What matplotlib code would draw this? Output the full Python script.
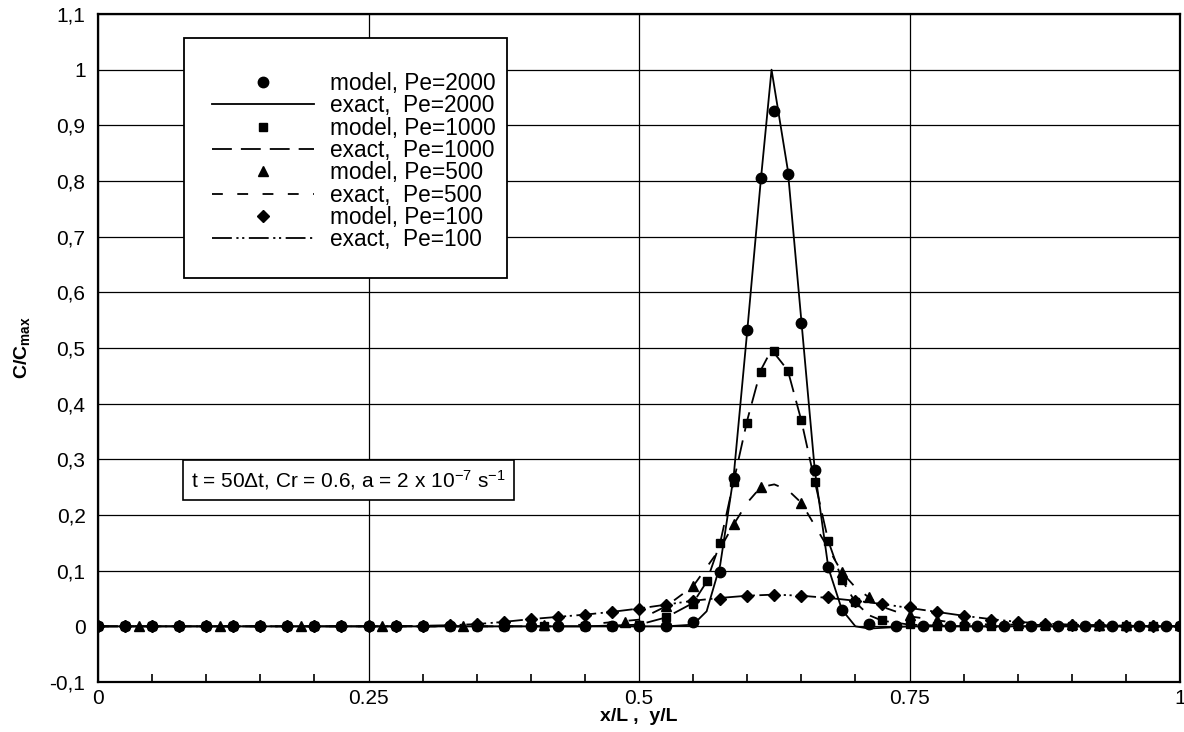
import numpy as np
import matplotlib
matplotlib.use("Agg")
import matplotlib.pyplot as plt
from matplotlib.patches import Rectangle
from matplotlib.ticker import FuncFormatter, MultipleLocator

plt.rcParams['font.family'] = ['Liberation Sans', 'DejaVu Sans']
plt.rcParams['mathtext.default'] = 'regular'

# ---- data ----
# model Pe=2000 (circles)
x_m2000 = [0, 0.025, 0.05, 0.075, 0.1, 0.125, 0.15, 0.175, 0.2, 0.225, 0.25,
           0.275, 0.3, 0.325, 0.35, 0.375, 0.4, 0.425, 0.45, 0.475, 0.5, 0.525,
           0.55, 0.575, 0.5875, 0.6, 0.6125, 0.625, 0.6375, 0.65, 0.6625, 0.675,
           0.6875, 0.7125, 0.7375, 0.7625, 0.7875, 0.8125, 0.8375, 0.8625,
           0.8875, 0.9125, 0.9375, 0.9625, 0.9875, 1.0]
y_m2000 = [0] * 22 + [0.007, 0.097, 0.266, 0.533, 0.805, 0.925, 0.812, 0.545,
                      0.28, 0.107, 0.03, 0.004] + [0] * 12

# exact Pe=2000 (solid)
x_e2000 = [0, 0.5, 0.525, 0.55, 0.5625, 0.575, 0.5875, 0.6, 0.6125, 0.6225,
           0.6375, 0.65, 0.6625, 0.675, 0.6875, 0.7, 0.7125, 0.75, 1.0]
y_e2000 = [0, 0, 0, 0.003, 0.027, 0.11, 0.27, 0.53, 0.80, 1.0,
           0.82, 0.55, 0.28, 0.105, 0.03, 0.0, -0.004, 0, 0]

# model Pe=1000 (squares)
x_m1000 = [0, 0.025, 0.05, 0.075, 0.1, 0.125, 0.15, 0.175, 0.2, 0.225, 0.25,
           0.275, 0.3, 0.325, 0.35, 0.375, 0.4125, 0.45, 0.475, 0.5, 0.525,
           0.55, 0.5625, 0.575, 0.5875, 0.6, 0.6125, 0.625, 0.6375, 0.65,
           0.6625, 0.675, 0.6875, 0.7, 0.725, 0.75, 0.775, 0.8, 0.825, 0.85,
           0.875, 0.9, 0.925, 0.95, 0.975, 1.0]
y_m1000 = [0] * 19 + [0.003, 0.016, 0.04, 0.081, 0.15, 0.26, 0.366, 0.456,
                      0.494, 0.458, 0.37, 0.26, 0.153, 0.084, 0.043, 0.012,
                      0.004] + [0] * 10

# exact Pe=1000 (long dash)
x_e1000 = [0, 0.45, 0.5, 0.525, 0.55, 0.5625, 0.575, 0.5875, 0.6, 0.6125,
           0.6225, 0.6375, 0.65, 0.6625, 0.675, 0.6875, 0.7, 0.7125, 0.725,
           0.75, 0.8, 1.0]
y_e1000 = [0, 0, 0.003, 0.016, 0.042, 0.08, 0.15, 0.26, 0.37, 0.46,
           0.497, 0.46, 0.37, 0.26, 0.153, 0.084, 0.043, 0.02, 0.01,
           0.003, 0, 0]

# model Pe=500 (triangles)
x_m500 = [0.0375, 0.1125, 0.1875, 0.2625, 0.3375, 0.4125, 0.4875, 0.525, 0.55,
          0.5875, 0.6125, 0.65, 0.6875, 0.7125, 0.75, 0.775, 0.8, 0.825, 0.85,
          0.875, 0.9, 0.925, 0.95, 0.975, 1.0]
y_m500 = [0, 0, 0, 0, 0.001, 0.002, 0.007, 0.036, 0.072, 0.183, 0.25, 0.222,
          0.097, 0.052, 0.02, 0.012, 0.009, 0.007, 0.006, 0.005, 0.004, 0.003,
          0.003, 0.002, 0.002]

# exact Pe=500 (short dash)
x_e500 = [0, 0.4, 0.45, 0.5, 0.525, 0.55, 0.575, 0.5875, 0.6, 0.6125, 0.625,
          0.6375, 0.65, 0.675, 0.6875, 0.7, 0.7125, 0.725, 0.75, 0.8, 1.0]
y_e500 = [0, 0, 0.003, 0.012, 0.036, 0.072, 0.14, 0.183, 0.222, 0.25, 0.255,
          0.245, 0.222, 0.14, 0.097, 0.07, 0.052, 0.035, 0.018, 0.004, 0]

# model Pe=100 (diamonds)
x_m100 = [0, 0.025, 0.05, 0.075, 0.1, 0.125, 0.15, 0.175, 0.2, 0.225, 0.25,
          0.275, 0.3, 0.325, 0.35, 0.375, 0.4, 0.425, 0.45, 0.475, 0.5, 0.525,
          0.55, 0.575, 0.6, 0.625, 0.65, 0.675, 0.7, 0.725, 0.75, 0.775, 0.8,
          0.825, 0.85, 0.875, 0.9, 0.925, 0.95, 0.975, 1.0]
y_m100 = [0] * 12 + [0.001, 0.002, 0.004, 0.008, 0.013, 0.017, 0.021, 0.026,
                     0.032, 0.039, 0.046, 0.05, 0.054, 0.057, 0.054, 0.052,
                     0.046, 0.04, 0.034, 0.025, 0.018, 0.012, 0.008, 0.005,
                     0.003, 0.002, 0.001, 0.001, 0.0]

# exact Pe=100 (dash-dot-dot), same nodes as the model
x_e100 = x_m100
y_e100 = [0] * 12 + [0.001, 0.002, 0.004, 0.008, 0.013, 0.017, 0.021, 0.026,
                     0.032, 0.039, 0.046, 0.051, 0.055, 0.057, 0.055, 0.051,
                     0.046, 0.04, 0.033, 0.026, 0.019, 0.013, 0.008, 0.005,
                     0.003, 0.002, 0.001, 0.001, 0.0]

y_ticks = np.round(np.arange(-0.1, 1.11, 0.1), 1)
x_ticks = [0, 0.25, 0.5, 0.75, 1]
x_tick_labels = ['0', '0.25', '0.5', '0.75', '1']

# ---- figure ----
W, H = 1184, 732
fig = plt.figure(figsize=(W / 100, H / 100), dpi=100)
ax = fig.add_axes([98 / W, (H - 682) / H, (1180 - 98) / W, (682 - 14) / H])

lw = 1.3
ax.plot(x_e2000, y_e2000, color='black', lw=lw, ls='-', label='exact,  Pe=2000', zorder=3)
ax.plot(x_e1000, y_e1000, color='black', lw=lw, ls=(0, (11, 5)), label='exact,  Pe=1000', zorder=3)
ax.plot(x_e500, y_e500, color='black', lw=lw, ls=(0, (6, 8)), label='exact,  Pe=500', zorder=3)
ax.plot(x_e100, y_e100, color='black', lw=lw, ls=(0, (11, 2.5, 1.2, 2, 1.2, 2.5)),
        label='exact,  Pe=100', zorder=3)

ax.plot(x_m100, y_m100, ls='none', marker='D', ms=6, color='black', label='model, Pe=100', zorder=4)
ax.plot(x_m500, y_m500, ls='none', marker='^', ms=6.5, color='black', label='model, Pe=500', zorder=4)
ax.plot(x_m1000, y_m1000, ls='none', marker='s', ms=5.5, color='black', label='model, Pe=1000', zorder=4)
ax.plot(x_m2000, y_m2000, ls='none', marker='o', ms=7.5, color='black', label='model, Pe=2000', zorder=5)

ax.set_xlim(0, 1)
ax.set_ylim(-0.1, 1.1)
ax.set_xticks(x_ticks)
ax.set_xticklabels(x_tick_labels)
ax.xaxis.set_minor_locator(MultipleLocator(0.05))
ax.set_yticks(y_ticks)
ax.yaxis.set_major_formatter(FuncFormatter(lambda v, p: ('%g' % round(v, 1)).replace('.', ',')))
ax.tick_params(axis='both', which='both', direction='in', labelsize=15, colors='black')
ax.tick_params(axis='x', which='major', length=0, pad=5)
ax.tick_params(axis='x', which='minor', length=6, width=1.2)
ax.tick_params(axis='y', which='major', length=0, pad=9)
ax.grid(True, which='major', color='black', lw=0.9)
for s in ax.spines.values():
    s.set_linewidth(1.6)

ax.set_xlabel('x/L ,  y/L', fontsize=14, fontweight='bold', labelpad=0)
ax.set_ylabel(r'C/C$_{max}$', fontsize=14, fontweight='bold', labelpad=13)

# legend box
handles, labels = ax.get_legend_handles_labels()
order = ['model, Pe=2000', 'exact,  Pe=2000', 'model, Pe=1000', 'exact,  Pe=1000',
         'model, Pe=500', 'exact,  Pe=500', 'model, Pe=100', 'exact,  Pe=100']
hmap = dict(zip(labels, handles))
leg = ax.legend([hmap[k] for k in order], order, loc='upper left',
                bbox_to_anchor=(212 / W, (H - 72) / H), bbox_transform=fig.transFigure,
                frameon=False, fontsize=16.3, handlelength=4.5, handletextpad=0.72,
                labelspacing=-0.03, borderpad=0, borderaxespad=0)
ax.add_patch(Rectangle((184 / W, (H - 278) / H), (507 - 184) / W, (278 - 38) / H,
                       transform=fig.transFigure, fill=True, facecolor='white',
                       edgecolor='black', lw=1.3, zorder=6))
leg.set_zorder(7)

# parameter box
ax.text(191 / W, (H - 480) / H, 't = 50Δt, Cr = 0.6, a = 2 x 10$^{-7}$ s$^{-1}$',
        transform=fig.transFigure, fontsize=15, va='center', ha='left', zorder=8,
        bbox=dict(boxstyle='square,pad=0.4', facecolor='white', edgecolor='black', lw=1.2))

fig.savefig('out.png', dpi=100)
